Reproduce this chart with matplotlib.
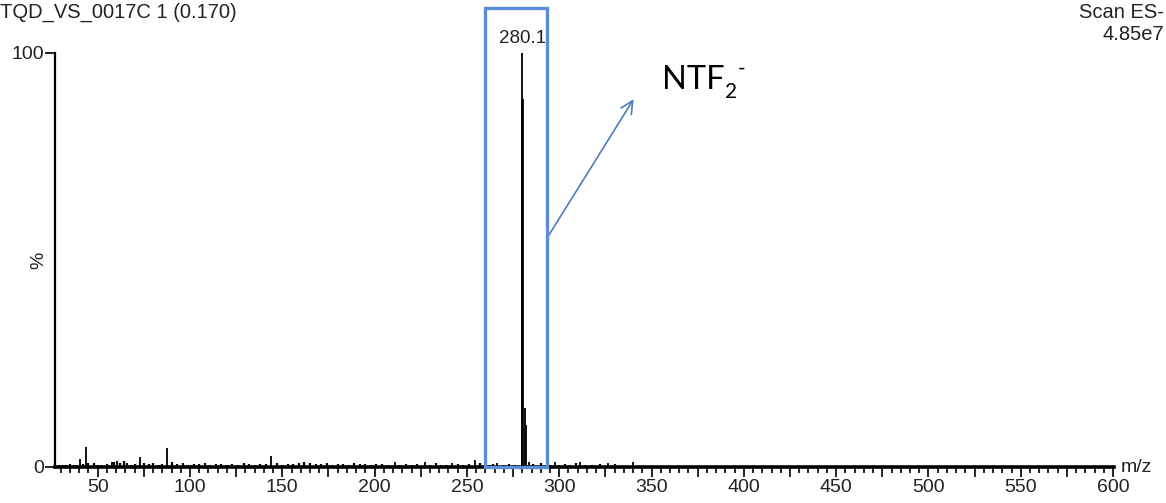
import matplotlib.pyplot as plt
from matplotlib.patches import Rectangle

plt.rcParams["font.family"] = ["Liberation Sans", "DejaVu Sans"]

# Scan header
run_name = "TQD_VS_0017C 1 (0.170)"
scan_mode = "Scan ES-"
base_intensity = "4.85e7"

# Labelled peaks (m/z, relative intensity %)
peak_mz = [40.4, 43.6, 57.7, 60.4, 72.9, 87.5, 144.1, 211.0, 227.3, 242.0,
           254.5, 266.3, 279.7, 280.1, 280.4, 281.2, 282.0, 283.4, 297.7, 311.3,
           326.4, 340.0]
peak_pct = [2.0, 4.8, 1.3, 1.5, 2.4, 4.5, 2.6, 1.2, 1.3, 1.0,
            1.6, 1.0, 88.5, 100.0, 89.0, 14.2, 10.1, 1.2, 1.1, 1.2,
            1.0, 1.1]

# Baseline noise
noise_mz = [29, 31, 33, 35, 37, 39, 42, 45, 48, 50,
            52, 55, 59, 62, 64, 66, 68, 70, 75, 78,
            80, 83, 85, 90, 93, 96, 99, 102, 105, 108,
            111, 114, 117, 120, 123, 126, 129, 132, 135, 138,
            141, 147, 150, 153, 156, 159, 162, 165, 168, 171,
            174, 177, 180, 183, 186, 189, 192, 195, 198, 201,
            204, 207, 214, 217, 220, 223, 230, 233, 236, 239,
            245, 248, 251, 257, 262, 264, 270, 273, 276, 286,
            290, 295, 300, 303, 306, 309, 314, 318, 322, 330]
noise_pct = [0.4, 0.6, 0.5, 0.7, 0.4, 0.6, 0.8, 1.0, 0.9, 0.5,
             0.6, 0.7, 1.2, 1.0, 1.4, 0.9, 0.6, 0.8, 1.0, 0.7,
             0.9, 0.6, 0.8, 1.1, 0.7, 0.9, 0.6, 0.8, 0.7, 0.9,
             0.6, 0.8, 0.7, 0.5, 0.8, 0.6, 0.9, 0.7, 0.6, 0.8,
             0.7, 0.9, 0.6, 0.8, 0.7, 1.0, 1.2, 0.9, 0.8, 0.7,
             0.9, 0.6, 0.8, 0.7, 0.6, 0.9, 0.8, 0.7, 0.6, 0.8,
             0.7, 0.6, 0.5, 0.8, 0.6, 0.7, 0.5, 0.9, 0.6, 0.5,
             0.8, 0.6, 0.7, 0.9, 0.6, 0.8, 0.5, 0.7, 0.6, 0.8,
             0.9, 0.6, 0.5, 0.7, 0.6, 1.0, 0.6, 0.5, 0.7, 0.8]

# Highlighted region around the base peak
box_mz = (259.8, 293.4)
box_top = 110.9

blue = "#5B8ED6"

fig = plt.figure(figsize=(11.66, 5.03), dpi=100)
ax = fig.add_axes([0.0472, 0.0716, 0.9082, 0.8231])

ax.vlines(noise_mz, 0, noise_pct, color="black", lw=1.6)
ax.vlines(peak_mz, 0, peak_pct, color="black", lw=1.3)

ax.set_xlim(26.9, 600.5)
ax.set_ylim(0, 100)

for side in ("top", "right"):
    ax.spines[side].set_visible(False)
ax.spines["bottom"].set_linewidth(2.6)
ax.spines["left"].set_linewidth(1.6)

ax.set_xticks(range(50, 601, 25))
ax.set_xticklabels([str(v) if v % 50 == 0 else "" for v in range(50, 601, 25)])
ax.set_xticks(range(30, 601, 5), minor=True)
ax.tick_params(axis="x", which="major", length=7, width=1.2, labelsize=14,
               pad=2, colors="black", labelcolor="#222222")
ax.tick_params(axis="x", which="minor", length=4, width=1.2)
ax.set_yticks([0, 100])
ax.set_yticklabels(["0", "100"])
ax.tick_params(axis="y", length=7, width=1.2, labelsize=14, pad=1,
               labelcolor="#222222")

# base peak label
i_max = peak_pct.index(max(peak_pct))
ax.text(peak_mz[i_max], max(peak_pct) + 1.5, f"{peak_mz[i_max]:.1f}",
        ha="center", va="bottom", fontsize=13.5, color="#222222")

# highlight box and arrow
ax.add_patch(Rectangle((box_mz[0], 0), box_mz[1] - box_mz[0], box_top,
                       fill=False, edgecolor=blue, lw=2.4, clip_on=False,
                       zorder=5))
ax.annotate("", xy=(341.1, 89.4), xytext=(box_mz[1], 55.3),
            arrowprops=dict(arrowstyle="->", color="#4A7EBB", lw=1.2,
                            mutation_scale=22),
            annotation_clip=False)

ion = ax.text(355.7, 93.5, "NTF", fontsize=23.5, family=["Lato", "DejaVu Sans"],
              va="center", ha="left", color="black")
sub = ax.annotate("2", xy=(1, 0), xycoords=ion, xytext=(0.5, -5),
                  textcoords="offset points", fontsize=15,
                  family=["Lato", "DejaVu Sans"], va="bottom", ha="left")
ax.annotate("-", xy=(1, 1), xycoords=sub, xytext=(0.5, 2),
            textcoords="offset points", fontsize=15,
            family=["Lato", "DejaVu Sans"], va="bottom", ha="left")

# header and axis captions
fig.text(0.0, 1 - 12 / 503, run_name, fontsize=14.5, va="center", ha="left",
         color="#222222")
fig.text(0.998, 1 - 12 / 503, scan_mode, fontsize=14.5, va="center",
         ha="right", color="#222222")
fig.text(0.998, 1 - 34 / 503, base_intensity, fontsize=14.5, va="center",
         ha="right", color="#222222")
fig.text(39 / 1166, 1 - 260 / 503, "%", fontsize=14, rotation=90,
         va="center", ha="center", color="#222222")
fig.text(1121 / 1166, 1 - 468 / 503, "m/z", fontsize=14, va="center",
         ha="left", color="#222222")

fig.savefig("out.png", dpi=100)
